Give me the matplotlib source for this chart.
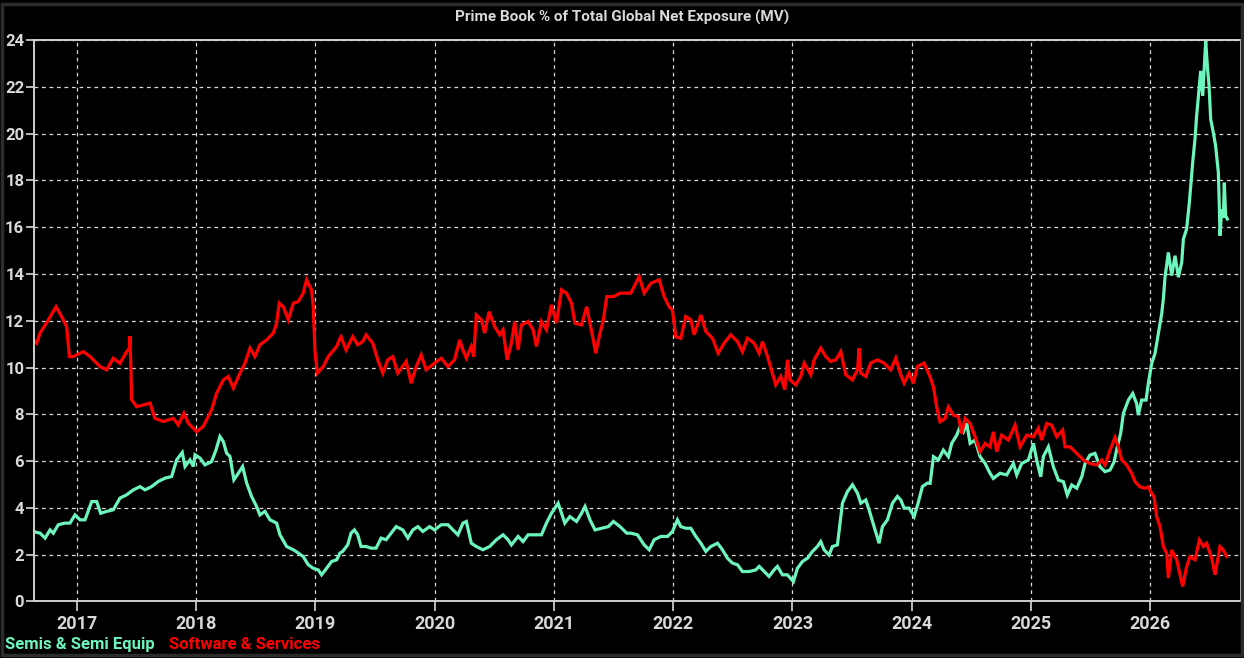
import matplotlib
matplotlib.use('Agg')
import matplotlib.pyplot as plt
from matplotlib.patches import Rectangle

plt.rcParams['font.family'] = ['Roboto', 'DejaVu Sans']
plt.rcParams['font.weight'] = 'bold'

title = 'Prime Book % of Total Global Net Exposure (MV)'
years = [2017, 2018, 2019, 2020, 2021, 2022, 2023, 2024, 2025, 2026]
y_ticks = [0, 2, 4, 6, 8, 10, 12, 14, 16, 18, 20, 22, 24]

# Semis & Semi Equip (decimal year, % of net exposure)
semis_t = [
    2016.637, 2016.693, 2016.735, 2016.777, 2016.804, 2016.846, 2016.902, 2016.944, 2016.986, 2017.028,
    2017.070, 2017.126, 2017.168, 2017.201, 2017.251, 2017.307, 2017.363, 2017.419, 2017.475, 2017.531,
    2017.573, 2017.628, 2017.684, 2017.740, 2017.796, 2017.838, 2017.885, 2017.908, 2017.950, 2017.978,
    2017.992, 2018.034, 2018.075, 2018.131, 2018.168, 2018.201, 2018.229, 2018.257, 2018.285, 2018.318,
    2018.355, 2018.391, 2018.425, 2018.466, 2018.508, 2018.536, 2018.578, 2018.620, 2018.676, 2018.704,
    2018.760, 2018.816, 2018.858, 2018.899, 2018.941, 2018.983, 2019.025, 2019.053, 2019.095, 2019.137,
    2019.179, 2019.207,
    2019.230, 2019.272, 2019.300, 2019.328, 2019.356, 2019.384, 2019.426, 2019.468, 2019.510, 2019.552,
    2019.594, 2019.636, 2019.678, 2019.734, 2019.776, 2019.818, 2019.860, 2019.902, 2019.958, 2020.000,
    2020.056, 2020.112, 2020.154, 2020.196, 2020.238, 2020.266, 2020.308, 2020.350, 2020.406, 2020.462,
    2020.518, 2020.574, 2020.616, 2020.644, 2020.700, 2020.742, 2020.784, 2020.840, 2020.896, 2020.938,
    2020.980, 2021.036, 2021.064, 2021.092, 2021.134, 2021.190, 2021.232, 2021.261, 2021.303, 2021.345,
    2021.401, 2021.457, 2021.499, 2021.555, 2021.611,
    2021.645, 2021.701, 2021.757, 2021.799, 2021.841, 2021.897, 2021.953, 2021.994, 2022.036, 2022.064,
    2022.106, 2022.148, 2022.190, 2022.232, 2022.274, 2022.316, 2022.372, 2022.413, 2022.455, 2022.497,
    2022.539, 2022.581, 2022.637, 2022.693, 2022.721, 2022.763, 2022.804, 2022.846, 2022.874, 2022.916,
    2022.958, 2023.008, 2023.042, 2023.084, 2023.126, 2023.168, 2023.209, 2023.237, 2023.265, 2023.307,
    2023.335, 2023.377, 2023.399, 2023.419, 2023.461, 2023.503, 2023.545, 2023.573, 2023.615, 2023.642,
    2023.684, 2023.726, 2023.754, 2023.796, 2023.838, 2023.880, 2023.908, 2023.936, 2023.978, 2024.020,
    2024.053, 2024.089, 2024.131,
    2024.154, 2024.182, 2024.223, 2024.265, 2024.307, 2024.335, 2024.377, 2024.405, 2024.433, 2024.461,
    2024.489, 2024.531, 2024.573, 2024.615, 2024.656, 2024.684, 2024.740, 2024.796, 2024.852, 2024.880,
    2024.922, 2024.978, 2025.020, 2025.047, 2025.081, 2025.103, 2025.145, 2025.187, 2025.229, 2025.271,
    2025.304, 2025.341, 2025.383, 2025.425, 2025.453, 2025.494, 2025.536, 2025.578, 2025.620, 2025.662,
    2025.696, 2025.723, 2025.751, 2025.774, 2025.816, 2025.852, 2025.885, 2025.899, 2025.927, 2025.964,
    2025.983, 2026.011, 2026.039, 2026.067, 2026.095,
    2026.109, 2026.123, 2026.151, 2026.179, 2026.207, 2026.235, 2026.263, 2026.277, 2026.304, 2026.327,
    2026.355, 2026.374, 2026.388, 2026.411, 2026.422, 2026.439, 2026.450, 2026.464, 2026.478, 2026.492,
    2026.506, 2026.528, 2026.547, 2026.570, 2026.578, 2026.584, 2026.598, 2026.612, 2026.620, 2026.631,
    2026.645,
]
semis_v = [
    2.99, 2.92, 2.71, 3.06, 2.92, 3.28, 3.35, 3.35, 3.70, 3.49,
    3.49, 4.27, 4.27, 3.77, 3.85, 3.92, 4.42, 4.56, 4.77, 4.91,
    4.77, 4.91, 5.13, 5.27, 5.34, 6.05, 6.37, 5.77, 6.05, 5.77,
    6.27, 6.13, 5.84, 5.98, 6.48, 7.05, 6.84, 6.34, 6.20, 5.20,
    5.48, 5.77, 5.06, 4.49, 4.06, 3.70, 3.85, 3.49, 3.35, 2.85,
    2.35, 2.21, 2.07, 1.92, 1.57, 1.42, 1.35, 1.14, 1.42, 1.71,
    1.78, 2.07,
    2.14, 2.42, 2.92, 3.06, 2.85, 2.35, 2.35, 2.28, 2.28, 2.71,
    2.64, 2.92, 3.20, 3.06, 2.71, 3.06, 3.20, 2.99, 3.20, 3.06,
    3.28, 3.28, 3.06, 2.85, 3.35, 3.42, 2.49, 2.35, 2.21, 2.35,
    2.64, 2.85, 2.64, 2.42, 2.78, 2.56, 2.85, 2.85, 2.85, 3.35,
    3.77, 4.20, 3.77, 3.35, 3.63, 3.42, 3.77, 4.06, 3.49, 3.06,
    3.13, 3.20, 3.42, 3.20, 2.92,
    2.92, 2.85, 2.42, 2.21, 2.64, 2.78, 2.78, 2.99, 3.49, 3.20,
    3.13, 3.13, 2.78, 2.49, 2.14, 2.35, 2.49, 2.21, 1.85, 1.64,
    1.57, 1.28, 1.28, 1.35, 1.50, 1.28, 1.07, 1.35, 1.50, 1.14,
    1.14, 0.85, 1.42, 1.71, 1.85, 2.14, 2.35, 2.56, 2.21, 1.99,
    2.35, 2.42, 3.35, 4.20, 4.70, 4.99, 4.63, 4.20, 4.34, 3.92,
    3.20, 2.49, 3.20, 3.49, 4.20, 4.49, 4.34, 3.99, 3.99, 3.63,
    4.20, 4.91, 5.06,
    5.05, 6.19, 6.05, 6.47, 6.19, 6.76, 7.11, 7.47, 7.25, 7.61,
    6.76, 6.90, 6.19, 5.90, 5.48, 5.26, 5.48, 5.41, 5.90, 5.41,
    5.90, 6.05, 6.76, 6.05, 5.33, 6.19, 6.61, 5.76, 5.19, 5.12,
    4.55, 4.98, 4.84, 5.33, 5.90, 6.26, 6.33, 5.76, 5.55, 5.62,
    5.97, 6.61, 7.18, 8.04, 8.61, 8.89, 8.46, 7.97, 8.61, 8.61,
    9.32, 10.17, 10.60, 11.45, 12.30,
    12.93, 13.86, 14.92, 13.93, 14.78, 13.86, 14.50, 15.49, 15.92, 17.06,
    18.77, 19.76, 20.76, 22.04, 22.68, 21.61, 22.61, 23.96, 22.89, 22.04,
    20.61, 20.04, 19.48, 18.34, 16.92, 15.64, 16.77, 16.40, 17.90, 16.50,
    16.35,
]

# Software & Services
software_t = [
    2016.637, 2016.665, 2016.693, 2016.763, 2016.827, 2016.874, 2016.916, 2016.939, 2016.972, 2017.056,
    2017.112, 2017.196, 2017.251, 2017.307, 2017.363, 2017.419, 2017.441, 2017.447, 2017.455, 2017.461,
    2017.503, 2017.559, 2017.615, 2017.656, 2017.726, 2017.810, 2017.852, 2017.899, 2017.936, 2018.006,
    2018.061, 2018.131, 2018.173, 2018.229, 2018.271, 2018.313, 2018.369, 2018.411, 2018.453, 2018.494,
    2018.536, 2018.592, 2018.648, 2018.676, 2018.698, 2018.732, 2018.774, 2018.816, 2018.858, 2018.899,
    2018.927, 2018.969, 2018.983, 2018.997, 2019.017, 2019.067, 2019.109, 2019.179, 2019.207,
    2019.216, 2019.258, 2019.314, 2019.356, 2019.398, 2019.426, 2019.482, 2019.524, 2019.566, 2019.608,
    2019.650, 2019.692, 2019.762, 2019.804, 2019.846, 2019.888, 2019.930, 2020.000, 2020.056, 2020.112,
    2020.168, 2020.210, 2020.238, 2020.266, 2020.308, 2020.328, 2020.350, 2020.392, 2020.420, 2020.457,
    2020.504, 2020.546, 2020.574, 2020.608, 2020.644, 2020.672, 2020.700, 2020.728, 2020.784, 2020.826,
    2020.854, 2020.896, 2020.938, 2020.980, 2021.022, 2021.064, 2021.106, 2021.148, 2021.176, 2021.232,
    2021.275, 2021.303, 2021.331, 2021.350, 2021.387, 2021.415, 2021.443, 2021.499, 2021.555, 2021.611,
    2021.645, 2021.715, 2021.757, 2021.813, 2021.883, 2021.925, 2021.966, 2021.994, 2022.022, 2022.064,
    2022.106, 2022.148, 2022.176, 2022.232, 2022.274, 2022.330, 2022.377, 2022.427, 2022.483, 2022.539,
    2022.581, 2022.623, 2022.679, 2022.721, 2022.749, 2022.791, 2022.832, 2022.860, 2022.902, 2022.936,
    2022.958, 2022.980, 2023.028, 2023.070, 2023.098, 2023.154, 2023.182, 2023.237, 2023.279, 2023.321,
    2023.363, 2023.405, 2023.447, 2023.503, 2023.545, 2023.559, 2023.573, 2023.615, 2023.656, 2023.712,
    2023.768, 2023.824, 2023.866, 2023.908, 2023.936, 2023.978, 2024.014, 2024.047, 2024.103,
    2024.154, 2024.182, 2024.209, 2024.237, 2024.279, 2024.307, 2024.349, 2024.391, 2024.419, 2024.447,
    2024.489, 2024.531, 2024.573, 2024.615, 2024.656, 2024.684, 2024.712, 2024.754, 2024.810, 2024.866,
    2024.908, 2024.964, 2025.020, 2025.061, 2025.089, 2025.131, 2025.173, 2025.215, 2025.265, 2025.285,
    2025.327, 2025.383, 2025.439, 2025.494, 2025.550, 2025.592, 2025.620, 2025.662, 2025.704, 2025.732,
    2025.760, 2025.802, 2025.844, 2025.872, 2025.913, 2025.955, 2025.983, 2026.011, 2026.031, 2026.053,
    2026.081, 2026.109, 2026.137, 2026.151, 2026.179, 2026.221, 2026.271, 2026.304, 2026.332, 2026.374,
    2026.411, 2026.444, 2026.472, 2026.514, 2026.542, 2026.584, 2026.612, 2026.640,
]
software_v = [
    11.18, 11.04, 11.47, 12.04, 12.60, 12.18, 11.75, 10.47, 10.47, 10.68,
    10.47, 10.04, 9.90, 10.40, 10.18, 10.68, 10.83, 11.35, 9.90, 8.62,
    8.33, 8.40, 8.48, 7.83, 7.69, 7.83, 7.55, 8.05, 7.62, 7.26,
    7.48, 8.19, 8.90, 9.47, 9.62, 9.12, 9.76, 10.19, 10.83, 10.47,
    10.97, 11.18, 11.47, 11.90, 12.75, 12.60, 12.04, 12.75, 12.82, 13.18,
    13.75, 13.32, 12.60, 10.75, 9.76, 10.04, 10.47, 10.90, 11.25,
    11.32, 10.75, 11.32, 10.97, 11.11, 11.40, 11.04, 10.33, 9.76, 10.33,
    10.47, 9.76, 10.26, 9.33, 10.04, 10.54, 9.90, 10.19, 10.40, 10.04,
    10.33, 11.18, 10.75, 10.40, 10.90, 10.47, 12.25, 12.04, 11.47, 12.39,
    11.75, 11.40, 11.61, 10.33, 11.04, 11.97, 10.75, 11.82, 11.97, 11.61,
    10.90, 11.97, 11.61, 12.68, 11.90, 13.32, 13.18, 12.75, 11.90, 11.82,
    12.60, 11.90, 11.18, 10.61, 11.47, 12.04, 13.03, 13.03, 13.18, 13.18,
    13.18, 13.89, 13.18, 13.60, 13.75, 13.03, 12.60, 12.46, 11.32, 11.25,
    12.18, 12.04, 11.40, 12.25, 11.54, 11.25, 10.61, 11.04, 11.40, 11.11,
    10.68, 11.25, 11.04, 10.61, 11.11, 10.47, 9.76, 9.26, 9.62, 9.05,
    10.33, 9.47, 9.26, 9.62, 10.19, 9.69, 10.33, 10.83, 10.47, 10.26,
    10.33, 10.68, 9.69, 9.47, 9.90, 10.83, 9.76, 9.62, 10.19, 10.33,
    10.19, 9.90, 10.40, 9.69, 9.33, 9.76, 9.33, 10.04, 10.19,
    9.60, 9.17, 8.32, 7.68, 7.82, 8.32, 7.97, 7.90, 7.18, 7.82,
    7.61, 7.04, 6.40, 6.76, 6.61, 7.25, 6.40, 7.11, 6.90, 7.54,
    6.61, 7.11, 7.04, 7.40, 6.90, 7.61, 7.54, 7.04, 7.33, 6.61,
    6.61, 6.33, 6.05, 5.90, 5.83, 6.05, 5.83, 6.47, 7.01, 6.61,
    6.05, 5.83, 5.48, 5.12, 4.90, 4.84, 4.90, 4.62, 4.48, 3.63,
    3.20, 2.35, 2.06, 1.00, 2.20, 1.78, 0.64, 1.49, 1.92, 1.78,
    2.63, 2.35, 2.49, 1.85, 1.14, 2.35, 2.20, 1.92,
]

green = '#6cf5bd'
red = '#ff0000'
fg = '#d9d9d9'

fig = plt.figure(figsize=(12.44, 6.58), dpi=100, facecolor='black')
ax = fig.add_axes([0.0273, 0.0859, 0.9703, 0.8533])
ax.set_facecolor('black')

ax.plot(semis_t, semis_v, color=green, lw=2.3, solid_joinstyle='miter')
ax.plot(software_t, software_v, color=red, lw=2.3, solid_joinstyle='miter')

ax.set_xlim(2016.642, 2026.76)
ax.set_ylim(0, 24)
ax.set_xticks(years)
ax.set_xticklabels([str(y) for y in years])
ax.set_yticks(y_ticks)
ax.grid(True, color='white', linestyle=(0, (3, 3)), linewidth=0.9, alpha=0.85)
ax.tick_params(axis='x', colors=fg, labelsize=13, length=7, width=1.2, pad=3)
ax.tick_params(axis='y', colors=fg, labelsize=12, length=6, width=1.2, pad=1)
for s in ax.spines.values():
    s.set_color('#cfcfcf')
    s.set_linewidth(1.4)

fig.text(0.5, 0.974, title, color=fg, fontsize=11, fontweight='bold', ha='center', va='center')
fig.text(0.004, 0.020, 'Semis & Semi Equip', color=green, fontsize=12, fontweight='bold', ha='left', va='center')
fig.text(0.136, 0.020, 'Software & Services', color=red, fontsize=12, fontweight='bold', ha='left', va='center')

fig.patches.append(Rectangle((0.002, 0.004), 0.996, 0.99, transform=fig.transFigure,
                             fill=False, edgecolor='#2b2b2b', linewidth=2.5))

fig.savefig('out.png', dpi=100, facecolor='black')
